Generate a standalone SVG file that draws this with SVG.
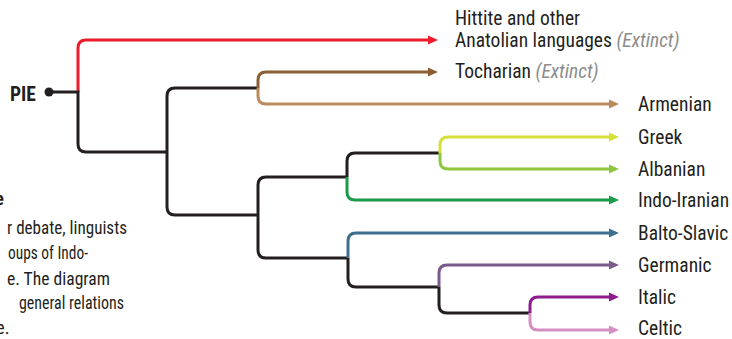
<svg xmlns="http://www.w3.org/2000/svg" width="732" height="339" viewBox="0 0 732 339">
<style>
text{font-family:"Liberation Sans Narrow","Roboto Condensed","DejaVu Sans Condensed",sans-serif;fill:#231f20}
.lbl{font-size:19.5px}
.par{font-size:18.5px}
.ext{fill:#8c8c8c;font-style:italic}
.c{fill:none;stroke-width:3;stroke-linecap:butt}
</style>
<defs>
<path id="ah" d="M-10,-4.5 L0,0 L-10,4.5 Z"/>
</defs>
<rect width="732" height="339" fill="#fff"/>
<g id="connectors">
<path class="c" stroke="#ec1c2b" d="M78,92 V48 Q78,40 86,40 H430"/>
<use href="#ah" x="438" y="40" fill="#ec1c2b"/>
<path class="c" stroke="#231f20" d="M49,92 H78 V144 Q78,152 86,152 H167"/>
<path class="c" stroke="#231f20" d="M167,152 V96 Q167,88 175,88 H258"/>
<path class="c" stroke="#231f20" d="M167,152 V207 Q167,215 175,215 H258"/>
<path class="c" stroke="#8b5e34" d="M258,88 V80 Q258,72 266,72 H430"/>
<use href="#ah" x="438" y="72" fill="#8b5e34"/>
<path class="c" stroke="#bb8b5d" d="M258,88 V96 Q258,104 266,104 H611"/>
<use href="#ah" x="619" y="104" fill="#bb8b5d"/>
<path class="c" stroke="#231f20" d="M258,215 V185 Q258,177 266,177 H347"/>
<path class="c" stroke="#231f20" d="M258,215 V250 Q258,258 266,258 H348"/>
<path class="c" stroke="#231f20" d="M347,177 V161 Q347,153 355,153 H440"/>
<path class="c" stroke="#1b9a4a" d="M347,177 V192 Q347,200 355,200 H611"/>
<use href="#ah" x="619" y="200" fill="#1b9a4a"/>
<path class="c" stroke="#d6e03a" d="M440,153 V145 Q440,137 448,137 H611"/>
<use href="#ah" x="619" y="137" fill="#d6e03a"/>
<path class="c" stroke="#8dc63f" d="M440,153 V161 Q440,169 448,169 H611"/>
<use href="#ah" x="619" y="169" fill="#8dc63f"/>
<path class="c" stroke="#3e6f8f" d="M348,258 V241 Q348,233 356,233 H611"/>
<use href="#ah" x="619" y="233" fill="#3e6f8f"/>
<path class="c" stroke="#231f20" d="M348,258 V279 Q348,287 356,287 H439"/>
<path class="c" stroke="#7b5b8c" d="M439,287 V273 Q439,265 447,265 H611"/>
<use href="#ah" x="619" y="265" fill="#7b5b8c"/>
<path class="c" stroke="#231f20" d="M439,287 V305 Q439,313 447,313 H530"/>
<path class="c" stroke="#8e1c8e" d="M530,313 V305 Q530,297 538,297 H611"/>
<use href="#ah" x="619" y="297" fill="#8e1c8e"/>
<path class="c" stroke="#d58fc3" d="M530,313 V322 Q530,330 538,330 H611"/>
<use href="#ah" x="619" y="330" fill="#d58fc3"/>
</g>
<g id="pie">
<circle cx="49" cy="92" r="4.5" fill="#231f20"/>
<text x="10" y="101" class="lbl" font-weight="bold">PIE</text>
</g>
<g id="hittite">
<text x="455" y="25" class="lbl">Hittite and other</text>
<text x="455" y="47" class="lbl">Anatolian languages <tspan class="ext">(Extinct)</tspan></text>
</g>
<g id="tocharian"><text x="455" y="78" class="lbl">Tocharian <tspan class="ext">(Extinct)</tspan></text></g>
<g id="armenian"><text x="638" y="111" class="lbl">Armenian</text></g>
<g id="greek"><text x="638" y="144" class="lbl">Greek</text></g>
<g id="albanian"><text x="638" y="176" class="lbl">Albanian</text></g>
<g id="indoiranian"><text x="638" y="207" class="lbl">Indo-Iranian</text></g>
<g id="baltoslavic"><text x="638" y="240" class="lbl">Balto-Slavic</text></g>
<g id="germanic"><text x="638" y="272" class="lbl">Germanic</text></g>
<g id="italic"><text x="638" y="304" class="lbl">Italic</text></g>
<g id="celtic"><text x="638" y="335" class="lbl">Celtic</text></g>
<g id="caption">
<text x="-5" y="205" class="par" font-weight="bold">e</text>
<text x="7" y="234" class="par" textLength="120" lengthAdjust="spacingAndGlyphs">r debate, linguists</text>
<text x="8" y="259" class="par" textLength="80" lengthAdjust="spacingAndGlyphs">oups of Indo-</text>
<text x="7" y="285" class="par" textLength="103" lengthAdjust="spacingAndGlyphs">e. The diagram</text>
<text x="19" y="309" class="par" textLength="105" lengthAdjust="spacingAndGlyphs">general relations</text>
<text x="-4" y="334" class="par">e.</text>
</g>
</svg>
